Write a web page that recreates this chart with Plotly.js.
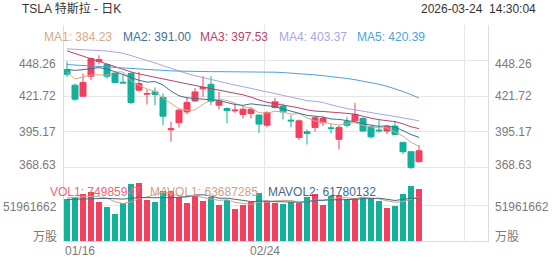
<!DOCTYPE html>
<html><head><meta charset="utf-8">
<script src="https://cdn.plot.ly/plotly-3.0.1.min.js"></script>
<style>html,body{margin:0;padding:0;background:#fff}#chart{width:552px;height:265px}</style>
</head><body><div id="chart"></div>
<script>
// ---- data ----
const dates = ['01/16','01/20','01/21','01/22','01/23','01/26','01/27','01/28','01/29','01/30',
  '02/02','02/03','02/04','02/05','02/06','02/09','02/10','02/11','02/12','02/13',
  '02/17','02/18','02/19','02/20','02/23','02/24','02/25','02/26','02/27','03/02',
  '03/03','03/04','03/05','03/06','03/09','03/10','03/11','03/12','03/13','03/16',
  '03/17','03/18','03/19','03/20','03/23'];
const labeledDates = ['01/16','02/24'];

const openP  = [441.5,429.9,421.7,436.6,447.7,445.3,438.6,432.1,438.6,426.2,
  423.2,424.9,420.7,396.6,401.9,410.0,418.2,427.2,430.6,415.0,
  412.5,410.8,408.1,408.8,407.6,400.1,413.3,414.3,403.8,390.9,
  395.2,398.4,401.9,398.1,389.5,402.6,403.3,405.1,398.9,396.4,
  395.7,399.4,387.2,380.3,372.8];
const highP  = [447.7,431.1,438.6,450.5,452.2,446.0,439.1,438.6,439.8,439.8,
  426.7,428.2,423.7,402.6,412.5,421.2,427.9,436.6,436.6,424.9,
  413.3,416.2,413.8,413.8,408.1,410.5,420.5,416.2,407.6,404.3,
  396.9,406.8,407.1,400.9,400.1,406.3,416.7,406.3,400.1,403.8,
  400.1,403.3,387.7,380.3,385.2];
const lowP   = [436.1,418.2,421.2,433.6,445.3,434.8,431.6,431.1,415.7,424.9,
  415.5,415.0,400.1,387.7,398.4,408.3,417.5,421.2,415.0,411.8,
  401.4,409.3,405.1,405.1,394.4,398.4,412.5,404.3,398.4,389.0,
  385.7,395.2,399.4,393.9,382.0,398.4,402.6,395.2,390.2,394.4,
  393.4,392.7,378.5,367.4,372.8];
const closeP = [438.1,419.5,431.9,449.7,449.0,436.6,431.9,431.6,417.0,431.1,
  423.7,422.9,406.8,397.4,411.3,417.0,424.9,428.2,418.0,418.0,
  411.0,411.3,412.0,412.0,400.9,409.5,417.5,410.0,403.3,403.3,
  393.9,405.6,405.1,397.6,398.4,400.1,408.1,395.7,391.4,395.9,
  398.9,393.2,380.3,368.6,381.0];
const volume = [60200000,63700000,67800000,71000000,56700000,49500000,38300000,54800000,82000000,83300000,
  59200000,56700000,72500000,71900000,63900000,54400000,66000000,57300000,63500000,52000000,
  59200000,45800000,51500000,55600000,69700000,58000000,55300000,53400000,56700000,55300000,
  63100000,67800000,52000000,65000000,66400000,60200000,61600000,63100000,60200000,58200000,
  47200000,51000000,67400000,79400000,74985947];

const ma1 = [439.8,434.5,436.0,437.5,437.6,437.3,439.8,439.8,433.2,429.6,
  427.1,425.3,420.3,416.4,412.4,411.1,411.5,415.7,418.8,419.5,
  418.5,416.5,414.1,412.9,409.4,409.1,410.4,410.0,408.3,408.7,
  405.6,403.2,402.2,401.1,400.1,401.4,401.9,400.0,398.7,398.2,
  398.0,395.0,391.9,387.4,384.23];
const ma2 = [441.6,441.0,441.5,442.5,443.0,442.0,440.0,438.0,436.0,433.6,
  432.2,432.6,430.1,425.5,422.0,420.5,420.0,419.5,419.5,418.5,
  417.0,415.5,414.9,416.0,415.3,414.6,413.9,412.1,410.6,409.1,
  407.4,406.8,406.1,404.7,404.4,403.5,402.6,401.1,399.9,399.2,
  399.7,398.5,396.0,393.1,391.00];
const ma3 = [455.5,453.5,451.2,449.2,447.3,445.3,443.5,441.7,439.8,438.3,
  437.0,435.7,434.5,433.3,432.0,430.8,429.7,428.6,427.4,426.2,
  425.2,424.0,422.7,421.0,418.8,417.2,416.2,415.1,414.4,413.0,
  411.5,410.6,410.3,410.0,409.5,408.9,408.2,406.6,405.3,404.2,
  403.6,402.7,401.1,398.9,397.53];
const ma4 = [457.0,456.7,456.4,456.1,455.8,455.4,454.6,453.7,452.0,450.3,
  448.5,446.5,444.5,442.4,440.5,438.6,437.0,435.5,434.0,432.7,
  431.3,430.0,428.8,427.5,426.2,424.6,423.2,422.0,420.9,419.8,
  418.4,417.9,417.0,415.3,413.6,412.4,411.6,410.4,409.6,408.4,
  407.6,406.6,405.7,404.7,403.37];
const ma5 = [445.3,444.9,444.5,444.1,443.7,443.3,442.9,442.5,442.1,441.7,
  441.4,441.1,440.8,440.6,440.4,440.2,440.1,440.0,440.0,440.0,
  440.0,440.0,440.0,440.0,440.0,439.9,439.6,439.3,439.0,438.6,
  438.1,437.6,437.0,436.4,435.7,434.9,434.0,433.0,431.9,430.6,
  429.1,427.3,425.2,422.9,420.39];
const mavol1 = [62000000,63000000,64000000,64500000,63900000,61700000,56700000,54100000,56300000,61600000,
  63500000,67200000,70700000,68700000,64800000,63900000,65700000,62700000,61000000,58600000,
  59600000,55600000,54400000,52800000,56400000,56100000,58000000,58400000,58600000,55700000,
  56800000,59300000,59000000,60600000,62900000,62300000,61000000,63300000,62300000,60700000,
  58100000,55900000,56800000,60600000,63687285];
const mavol2 = [60000000,60500000,61000000,61500000,62000000,61500000,61000000,60500000,61500000,62700000,
  62600000,62000000,62400000,62500000,63200000,63700000,66500000,66700000,64900000,61700000,
  61800000,60700000,58600000,56900000,57500000,57900000,56800000,56400000,55700000,56100000,
  56500000,58700000,58700000,59600000,59300000,59600000,60200000,61200000,61500000,61800000,
  60200000,58500000,60100000,61500000,61780132];

const priceTicks = [448.26, 421.72, 395.17, 368.63];
const volTicks = [51961662];
const volUnit = '万股';
const titleText = 'TSLA 特斯拉 - 日K';
const timeText = '2026-03-24&nbsp;&nbsp;14:30:04';
const maNames = ['MA1','MA2','MA3','MA4','MA5'];
const volNames = ['VOL1','MAVOL1','MAVOL2'];

// ---- styles ----
const FONT = 'Liberation Sans, Arial, Noto Sans CJK SC, sans-serif';
const RED = '#f2405e', TEAL = '#13b09b';
const GRID = '#e6e6e6', LABEL = '#7a7a7a';
const maColors = ['#d4aa8a','#3f6f92','#b5436f','#a9a6e3','#4ba3d6'];
const volColors = ['#ee6474','#d0a282','#44698a'];

const W = 552, H = 265, ML = 64, MR = 64, MT = 25, MB = 24;
const PW = W - ML - MR, PH = H - MT - MB;
const px = x => (x - ML) / PW;
const py = y => (H - MB - y) / PH;

const idx = dates.map((d, i) => i);
const last = idx.length - 1;
const XR = [-0.375, 52.625];
const gridX = [-0.375, 24.625, 49.625];
const volDom = [0, 72 / PH];

const traces = [];
traces.push({
  type: 'candlestick', x: idx, open: openP, high: highP, low: lowP, close: closeP,
  xaxis: 'x', yaxis: 'y', whiskerwidth: 0, hoverinfo: 'skip',
  increasing: {line: {color: RED, width: 1}, fillcolor: RED},
  decreasing: {line: {color: TEAL, width: 1}, fillcolor: TEAL}
});
[ma1, ma2, ma3, ma4, ma5].forEach((arr, k) => traces.push({
  type: 'scatter', mode: 'lines', x: idx, y: arr, xaxis: 'x', yaxis: 'y',
  line: {color: maColors[k], width: 1}, hoverinfo: 'skip'
}));
traces.push({
  type: 'bar', x: idx, y: volume, xaxis: 'x2', yaxis: 'y2', width: 0.75,
  marker: {color: idx.map(i => closeP[i] >= openP[i] ? RED : TEAL), line: {width: 0}},
  hoverinfo: 'skip'
});
[mavol1, mavol2].forEach((arr, k) => traces.push({
  type: 'scatter', mode: 'lines', x: idx, y: arr, xaxis: 'x2', yaxis: 'y2',
  line: {color: volColors[k + 1], width: 1}, hoverinfo: 'skip'
}));

const ann = [];
const A = (o) => ann.push(Object.assign({showarrow: false, font: {family: FONT, size: 12, color: LABEL}}, o));

A({text: titleText, xref: 'paper', yref: 'paper', x: px(20), y: py(9), xanchor: 'left', yanchor: 'middle', font: {family: FONT, size: 12, color: '#333'}});
A({text: timeText, xref: 'paper', yref: 'paper', x: px(538), y: py(9), xanchor: 'right', yanchor: 'middle', font: {family: FONT, size: 12, color: '#333'}});

const maVals = [ma1[last], ma2[last], ma3[last], ma4[last], ma5[last]];
const maX = [42, 120.5, 198, 277, 355];
maNames.forEach((n, k) => A({text: n + ': ' + maVals[k].toFixed(2), xref: 'paper', yref: 'paper',
  x: px(maX[k]), y: py(36.6), xanchor: 'left', yanchor: 'middle', font: {family: FONT, size: 12, color: maColors[k]}}));

const volVals = [volume[last], mavol1[last], mavol2[last]];
const volX = [48, 148, 266];
volNames.forEach((n, k) => A({text: n + ': ' + volVals[k], xref: 'paper', yref: 'paper',
  x: px(volX[k]), y: py(191.7), xanchor: 'left', yanchor: 'middle', font: {family: FONT, size: 12, color: volColors[k]}}));

const tickShift = [-3.5, 0, 0, 2.3];
priceTicks.forEach((v, k) => {
  A({text: v.toFixed(2), xref: 'paper', yref: 'y', x: 0, y: v, xanchor: 'right', yanchor: 'middle', xshift: -6, yshift: tickShift[k]});
  A({text: v.toFixed(2), xref: 'paper', yref: 'y', x: 1, y: v, xanchor: 'left', yanchor: 'middle', xshift: 5, yshift: tickShift[k]});
});
volTicks.forEach(v => {
  A({text: String(v), xref: 'paper', yref: 'y2', x: 0, y: v, xanchor: 'right', yanchor: 'middle', xshift: -5, yshift: -2.3});
  A({text: String(v), xref: 'paper', yref: 'y2', x: 1, y: v, xanchor: 'left', yanchor: 'middle', xshift: 5, yshift: -2.3});
});
A({text: volUnit, xref: 'paper', yref: 'paper', x: 0, y: py(236.5), xanchor: 'right', yanchor: 'middle', xshift: -5});
A({text: volUnit, xref: 'paper', yref: 'paper', x: 1, y: py(236.5), xanchor: 'left', yanchor: 'middle', xshift: 5});

labeledDates.forEach((d, k) => {
  const i = dates.indexOf(d);
  A({text: d, xref: 'x2', yref: 'paper', x: k === 0 ? XR[0] : i - 0.3, y: py(251), xanchor: k === 0 ? 'left' : 'center', yanchor: 'middle', xshift: k === 0 ? -1 : 0});
});

const axBase = {range: XR, tickvals: gridX, showticklabels: false, ticks: '', showgrid: true, gridcolor: GRID, gridwidth: 1, zeroline: false, fixedrange: true};
const layout = {
  width: W, height: H, margin: {l: ML, r: MR, t: MT, b: MB, pad: 0},
  paper_bgcolor: '#fff', plot_bgcolor: '#fff', showlegend: false,
  font: {family: FONT, size: 12, color: LABEL},
  boxgap: 0.25, boxgroupgap: 0, bargap: 0,
  xaxis: Object.assign({}, axBase, {anchor: 'y', domain: [0, 1], rangeslider: {visible: false}, showline: false}),
  xaxis2: Object.assign({}, axBase, {anchor: 'y2', domain: [0, 1], showline: true, linecolor: '#dcdcdc', linewidth: 1}),
  yaxis: {domain: [volDom[1], 1], range: [367.4, 474.8], tickvals: priceTicks, showticklabels: false, ticks: '',
    showgrid: true, gridcolor: GRID, zeroline: false, showline: true, mirror: true, linecolor: '#dcdcdc', linewidth: 1, fixedrange: true},
  yaxis2: {domain: volDom, range: [0, 103923324], tickvals: volTicks, showticklabels: false, ticks: '',
    showgrid: true, gridcolor: GRID, zeroline: false, showline: true, mirror: true, linecolor: '#dcdcdc', linewidth: 1, fixedrange: true},
  annotations: ann
};
Plotly.newPlot('chart', traces, layout, {staticPlot: true, displayModeBar: false});
</script></body></html>
